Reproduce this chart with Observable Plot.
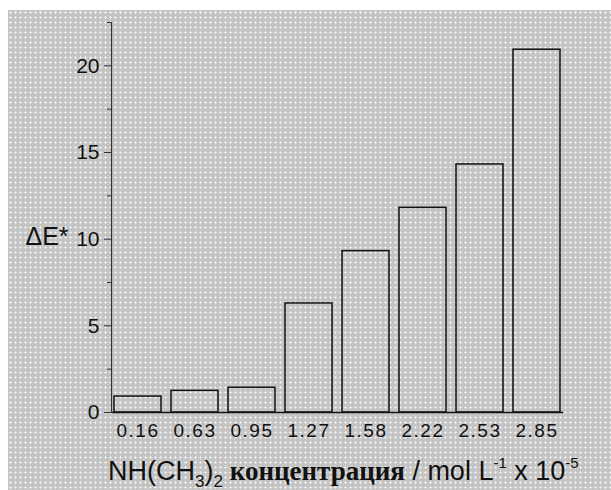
<!DOCTYPE html>
<html><head><meta charset="utf-8">
<script src="https://cdn.jsdelivr.net/npm/d3@7"></script>
<script src="https://cdn.jsdelivr.net/npm/@observablehq/plot@0.6"></script>
<style>
html,body{margin:0;padding:0;background:#fff;width:611px;height:490px;overflow:hidden;}
#chart{position:absolute;left:8px;top:10px;width:603px;height:480px;
  background-color:#c4c4c4;
  background-image:radial-gradient(circle at 2.5px 2.5px, #f0f0f0 0.9px, rgba(240,240,240,0) 1.4px);
  background-size:5px 5px;}
#chart svg{display:block;}
#chart svg [aria-label="x-axis tick label"] text{letter-spacing:1.5px;}
</style></head><body><div id="chart"></div>
<script>
const concentrations = ["0.16","0.63","0.95","1.27","1.58","2.22","2.53","2.85"];
const deltaE = [0.92, 1.25, 1.43, 6.29, 9.31, 11.81, 14.31, 20.93];
const yMajorTicks = [0, 5, 10, 15, 20];
const yMinorTicks = [2.5, 7.5, 12.5, 17.5, 22.5];
const yLabel = "ΔE*";
const data = concentrations.map((c, i) => ({c, v: deltaE[i]}));

const plot = Plot.plot({
  width: 603, height: 480,
  marginLeft: 104, marginRight: 48, marginTop: 12, marginBottom: 78,
  style: {background: "transparent", fontFamily: "'Liberation Sans', Arial, sans-serif", color: "#111", overflow: "visible"},
  x: {domain: concentrations, paddingInner: 0.167, paddingOuter: 0, align: 0.5},
  y: {domain: [0, 22.5]},
  marks: [
    Plot.barY(data, {x: "c", y: "v", fill: "none", stroke: "#111", strokeWidth: 1.5}),
    Plot.ruleY([0], {stroke: "#111", strokeWidth: 1.5}),
    Plot.frame({anchor: "left", dx: -1, stroke: "#333", strokeWidth: 1.2}),
    Plot.axisY({ticks: yMajorTicks, tickSize: 7, tickPadding: 5, fontSize: 21, label: null, dx: -1, stroke: "#333"}),
    Plot.axisY({ticks: yMinorTicks, tickSize: 4, tickFormat: () => "", label: null, dx: -1, stroke: "#333"}),
    Plot.axisX({tickSize: 0, tickPadding: 11, fontSize: 19, label: null}),
    Plot.text([yLabel], {frameAnchor: "left", text: d => d, textAnchor: "start", dx: -87, dy: 19, fontSize: 25, fill: "#111"})
  ]
});
document.getElementById("chart").appendChild(plot);

// x-axis title with sub/superscripts
const svg = d3.select(plot);
const t = svg.append("text").attr("x", 100).attr("y", 470).attr("fill", "#111")
  .attr("text-anchor", "start")
  .style("font-family", "'Liberation Sans', Arial, sans-serif").style("font-size", "27px");
const parts = [
  ["NH(CH", 0, 27, "sans"],
  ["3", 7, 17, "sans"],
  [")", -7, 27, "sans"],
  ["2", 7, 17, "sans"],
  [" концентрация", -7, 27, "serif"],
  [" / mol L", 0, 27, "sans"],
  ["-1", -12, 15, "sans"],
  [" x 10", 12, 27, "sans"],
  ["-5", -12, 15, "sans"]
];
for (const [s, dy, fs, fam] of parts) {
  const ts = t.append("tspan").attr("dy", dy).style("font-size", fs + "px").text(s);
  if (fam === "serif") ts.style("font-family", "'Liberation Serif', 'Times New Roman', serif").style("font-weight", "bold");
}
</script></body></html>
